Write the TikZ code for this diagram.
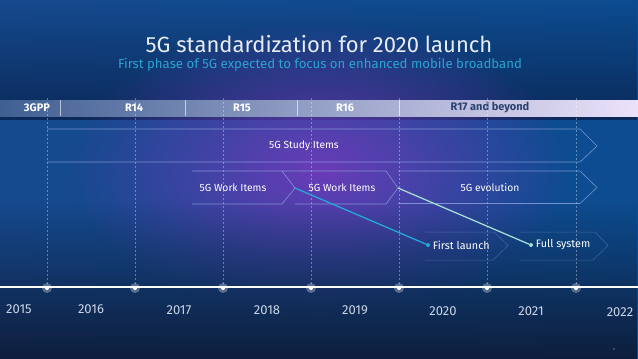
\documentclass[tikz,border=0pt]{standalone}
\usepackage{fontspec}
\setmainfont{Fira Sans}
\usepackage{tikz}
\usetikzlibrary{positioning,fadings}

\definecolor{bgTop}{HTML}{0B2A5A}
\definecolor{bgLeft}{HTML}{164A8E}
\definecolor{bgMid}{HTML}{27428E}
\definecolor{bgRight}{HTML}{0C4C90}
\definecolor{bgBottom}{HTML}{0E1E3C}
\definecolor{glowPurple}{HTML}{6A3CB8}
\definecolor{barLeft}{HTML}{3F5F93}
\definecolor{barMid}{HTML}{8D93C4}
\definecolor{barRight}{HTML}{ECE2FA}
\definecolor{barText}{HTML}{2B4270}
\definecolor{subCyan}{HTML}{2AA3D2}
\definecolor{chevBlue}{HTML}{9DB2EA}
\definecolor{yearGrey}{HTML}{CBD4E8}
\definecolor{cyanLine}{HTML}{22AAD8}
\definecolor{tealLine}{HTML}{A4DED2}

\tikzfading[name=glow_fade, inner color=transparent!0, outer color=transparent!100]
\tikzfading[name=dark_fade, top color=transparent!100, bottom color=transparent!0]

\begin{document}
\begin{tikzpicture}[x=1pt, y=-1pt,
	year_dot/.style={circle, fill=white, inner sep=0pt, minimum size=4pt},
	dot_glow/.style={circle, fill=white, fill opacity=0.3, inner sep=0pt, minimum size=10pt},
	year_label/.style={text=yearGrey, font=\fontsize{13}{13}\selectfont},
	rel_label/.style={text=white, font=\bfseries\fontsize{11}{11}\selectfont},
	chev_line/.style={draw=chevBlue, line width=0.6pt, draw opacity=0.7},
	launch_chev/.style={draw=chevBlue, line width=0.5pt, draw opacity=0.35},
	item_label/.style={text=white, font=\fontsize{10.3}{10.3}\selectfont},
	launch_dot/.style={circle, inner sep=0pt, minimum size=4pt},
	launch_label/.style={text=white, inner sep=1pt, font=\fontsize{10.8}{10.8}\selectfont},
	grid_line/.style={white, draw opacity=0.35, dash pattern=on 2pt off 2pt, line width=0.4pt}]
	\useasboundingbox (0,0) rectangle (638,359);

	% background
	\shade[left color=bgLeft, middle color=bgMid, right color=bgRight] (0,0) rectangle (638,359);
	\fill[bgTop, path fading=north] (0,0) rectangle (638,120);
	\fill[glowPurple, path fading=glow_fade] (320,170) ellipse [x radius=250, y radius=150];
	\fill[bgBottom, path fading=dark_fade] (0,200) rectangle (638,359);

	% title
	\node[text=white, text opacity=0.9, font=\fontsize{22}{22}\selectfont] (title) at (319,44) {5G standardization for 2020 launch};
	\node[text=subCyan, font=\fontsize{13.2}{13.2}\selectfont] (subtitle) at (320,65) {First phase of 5G expected to focus on enhanced mobile broadband};

	% 3GPP release bar
	\shade[left color=barLeft, middle color=barMid, right color=barRight] (0,100) rectangle (638,116);
	\foreach \x in {60,185,297,399}
		\draw[white, draw opacity=0.6, line width=0.8pt] (\x,100) -- (\x,116);
	\node[rel_label] (3gpp) at (37,108) {3GPP};
	\node[rel_label] (r14) at (134,108) {R14};
	\node[rel_label] (r15) at (242,108) {R15};
	\node[rel_label] (r16) at (345,108) {R16};
	\node[rel_label, text=barText] (r17) at (490,108) {R17 and beyond};

	% year grid
	\foreach \x in {47,135,223,311,399,487,576}
		\draw[grid_line] (\x,98) -- (\x,287);

	% study and work items
	\draw[chev_line] (47,129) -- (580,129) -- (597,146) -- (580,162) -- (47,162);
	\draw[chev_line] (192,171) -- (282,171) -- (295,188) -- (282,204) -- (192,204);
	\draw[chev_line] (282,171) -- (386,171) -- (398,188) -- (386,204) -- (295,204);
	\draw[chev_line] (398,171) -- (580,171) -- (597,187.5) -- (580,203.5) -- (398,203.5);
	\draw[launch_chev] (425,232) -- (494,232) -- (508,245.5) -- (493,260) -- (425,260);
	\draw[launch_chev] (520,232) -- (595,232) -- (608,245.5) -- (593,260) -- (520,260);

	\node[item_label] (study) at (304,146) {5G Study Items};
	\node[item_label] (work1) at (233,188) {5G Work Items};
	\node[item_label] (work2) at (342,188) {5G Work Items};
	\node[item_label] (evol) at (490,188) {5G evolution};

	\coordinate (w1_tip) at (295,188);
	\coordinate (w2_tip) at (398,188);

	% launches
	\node[launch_dot, fill=cyanLine] (first) at (428,245) {};
	\node[launch_dot, fill=tealLine] (full) at (531,245) {};
	\node[launch_label, right=1.5pt of first] (first_lbl) {First launch};
	\node[launch_label, right=1.5pt of full] (full_lbl) {Full system};
	\draw[cyanLine, line width=1.3pt] (w1_tip) -- (first);
	\draw[tealLine, line width=1.3pt] (w2_tip) -- (full);

	% timeline
	\coordinate (tl_l) at (0,287);
	\coordinate (tl_r) at (638,287);
	\draw[white, line width=1.1pt] (tl_l) -- (tl_r);
	\foreach \x [count=\i] in {47,135,223,311,399,487,576} {
		\node[dot_glow] at (\x,288) {};
		\node[year_dot] (\i) at (\x,288) {};
	}
	\foreach \yr/\x [count=\i] in {2015/19,2016/91,2017/179,2018/267,2019/355,2020/443,2021/531,2022/620}
		\node[year_label] (y\yr) at (\x,308.6+0.4*\i) {\yr};

	\node[text=white, text opacity=0.6, font=\fontsize{3}{3}\selectfont] (pagenum) at (614,349) {8};
\end{tikzpicture}
\end{document}
